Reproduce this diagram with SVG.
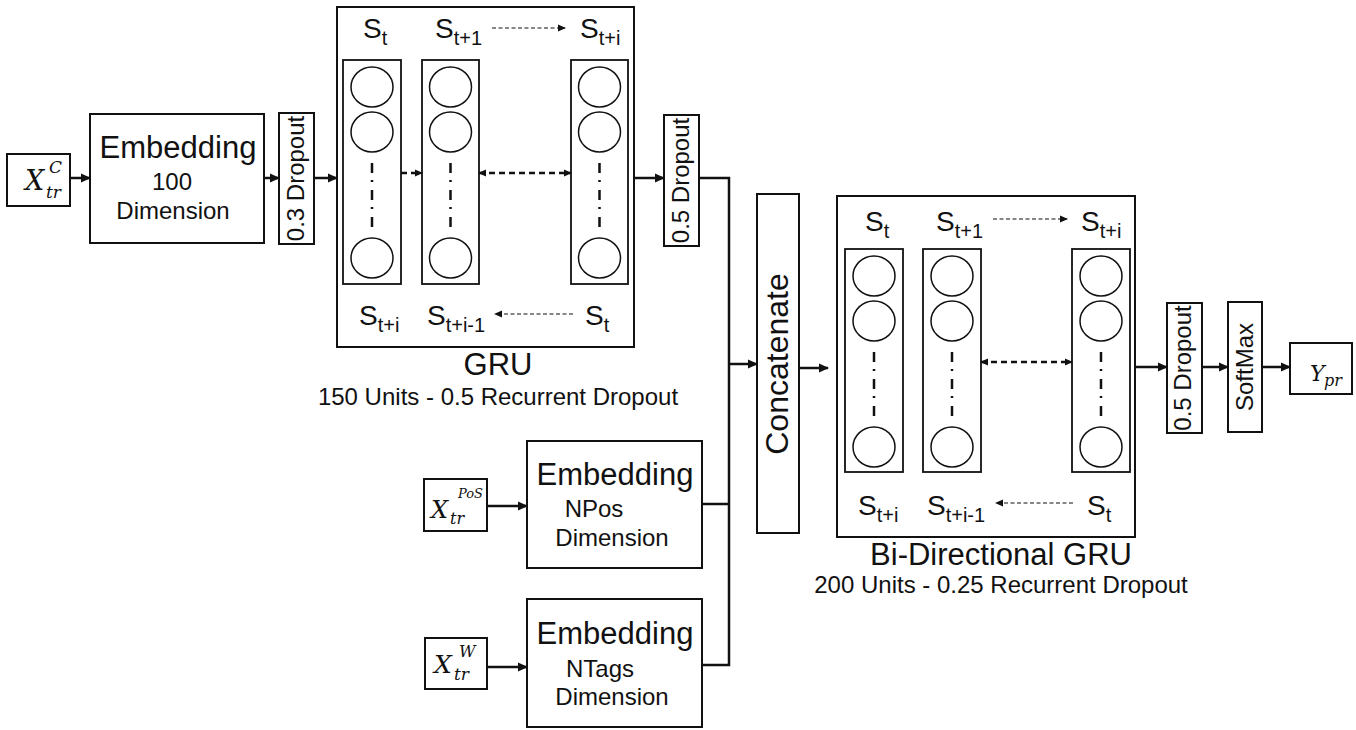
<svg xmlns="http://www.w3.org/2000/svg" width="1356" height="730" viewBox="0 0 1356 730">
<style>
.box{fill:#fff;stroke:#111;stroke-width:2}
.col{fill:none;stroke:#111;stroke-width:1.8}
.cir{fill:none;stroke:#111;stroke-width:1.5}
.dd{stroke:#111;stroke-width:2.5;stroke-dasharray:10,7,2,8;fill:none}
.conn{fill:none;stroke:#111;stroke-width:2.5}
.dash{fill:none;stroke:#111;stroke-width:2.5;stroke-dasharray:6,4}
.thin{fill:none;stroke:#111;stroke-width:1.2;stroke-dasharray:4,2.5}
text{font-family:"Liberation Sans",Arial,sans-serif;fill:#111}
.big{font-size:31px}
.mid{font-size:24px}
.s{font-size:28px}
.sub{font-size:20px}
.m{font-family:"DejaVu Serif","Liberation Serif",serif;font-style:italic}
</style>
<defs>
<marker id="ah" markerUnits="userSpaceOnUse" markerWidth="10" markerHeight="10" refX="9" refY="5" orient="auto-start-reverse"><path d="M0,0.5 L10,5 L0,9.5 z" fill="#111"/></marker>
<marker id="ahs" markerUnits="userSpaceOnUse" markerWidth="8" markerHeight="8" refX="7" refY="4" orient="auto-start-reverse"><path d="M0,0.5 L8,4 L0,7.5 z" fill="#111"/></marker>
</defs>

<g id="xc">
<rect class="box" x="7" y="154" width="63" height="52"/>
<text class="m" x="25" y="190" font-size="27">X</text>
<text class="m" x="49" y="173" font-size="17">C</text>
<text class="m" x="46" y="198" font-size="17">tr</text>
</g>

<g id="emb1">
<rect class="box" x="90" y="114" width="174" height="129"/>
<text class="big" x="178" y="158" text-anchor="middle">Embedding</text>
<text class="mid" x="172" y="190" text-anchor="middle">100</text>
<text class="mid" x="173" y="219" text-anchor="middle">Dimension</text>
</g>

<g id="drop1">
<rect class="box" x="279" y="113" width="35" height="131"/>
<text class="mid" transform="translate(304,178.5) rotate(-90)" text-anchor="middle" font-size="23">0.3 Dropout</text>
</g>

<g id="gru">
<rect class="box" x="337" y="7" width="297" height="340"/>
<rect class="col" x="343" y="60" width="58" height="224"/>
<rect class="col" x="422" y="60" width="57" height="224"/>
<rect class="col" x="571" y="60" width="57" height="224"/>
<ellipse class="cir" cx="372" cy="87" rx="21" ry="20"/>
<ellipse class="cir" cx="372" cy="132" rx="21" ry="20"/>
<ellipse class="cir" cx="372" cy="258" rx="21" ry="20"/>
<ellipse class="cir" cx="450.5" cy="87" rx="21" ry="20"/>
<ellipse class="cir" cx="450.5" cy="132" rx="21" ry="20"/>
<ellipse class="cir" cx="450.5" cy="258" rx="21" ry="20"/>
<ellipse class="cir" cx="599.5" cy="87" rx="21" ry="20"/>
<ellipse class="cir" cx="599.5" cy="132" rx="21" ry="20"/>
<ellipse class="cir" cx="599.5" cy="258" rx="21" ry="20"/>
<line class="dd" x1="372" y1="163" x2="372" y2="229"/>
<line class="dd" x1="450.5" y1="163" x2="450.5" y2="229"/>
<line class="dd" x1="599.5" y1="163" x2="599.5" y2="229"/>
<line class="dash" x1="401" y1="173" x2="422" y2="173" marker-end="url(#ahs)"/>
<line class="dash" x1="479" y1="173" x2="571" y2="173" marker-start="url(#ahs)" marker-end="url(#ahs)"/>
<text class="s" x="363" y="38">S<tspan class="sub" dy="7">t</tspan></text>
<text class="s" x="435" y="38">S<tspan class="sub" dy="7">t+1</tspan></text>
<line class="thin" x1="492" y1="28" x2="565" y2="28" marker-end="url(#ahs)"/>
<text class="s" x="580" y="38">S<tspan class="sub" dy="7">t+i</tspan></text>
<text class="s" x="359" y="325">S<tspan class="sub" dy="7">t+i</tspan></text>
<text class="s" x="427" y="325">S<tspan class="sub" dy="7">t+i-1</tspan></text>
<line class="thin" x1="573" y1="314" x2="495" y2="314" marker-end="url(#ahs)"/>
<text class="s" x="585" y="325">S<tspan class="sub" dy="7">t</tspan></text>
<text class="big" x="498" y="375" text-anchor="middle">GRU</text>
<text class="mid" x="498" y="405" text-anchor="middle">150 Units - 0.5 Recurrent Dropout</text>
</g>

<g id="drop2">
<rect class="box" x="664" y="115" width="35" height="131"/>
<text class="mid" transform="translate(689,180.5) rotate(-90)" text-anchor="middle" font-size="23">0.5 Dropout</text>
</g>

<g id="xpos">
<rect class="box" x="424" y="479" width="63" height="52"/>
<text class="m" x="431" y="518" font-size="24">X</text>
<text class="m" x="458" y="498" font-size="13">PoS</text>
<text class="m" x="450" y="524" font-size="16">tr</text>
</g>

<g id="embpos">
<rect class="box" x="527" y="441" width="175" height="127"/>
<text class="big" x="615" y="485" text-anchor="middle">Embedding</text>
<text class="mid" x="594" y="517" text-anchor="middle">NPos</text>
<text class="mid" x="612" y="546" text-anchor="middle">Dimension</text>
</g>

<g id="xw">
<rect class="box" x="425" y="638" width="62" height="51"/>
<text class="m" x="434" y="673" font-size="25">X</text>
<text class="m" x="459" y="657" font-size="16">W</text>
<text class="m" x="454" y="680" font-size="17">tr</text>
</g>

<g id="embw">
<rect class="box" x="527" y="599" width="175" height="128"/>
<text class="big" x="615" y="644" text-anchor="middle">Embedding</text>
<text class="mid" x="600" y="677" text-anchor="middle">NTags</text>
<text class="mid" x="612" y="705" text-anchor="middle">Dimension</text>
</g>

<g id="concat">
<rect class="box" x="757" y="194" width="42" height="339"/>
<text transform="translate(788,364) rotate(-90)" text-anchor="middle" font-size="32">Concatenate</text>
</g>

<g id="bigru">
<rect class="box" x="837" y="196" width="298" height="341"/>
<rect class="col" x="845" y="249" width="58" height="223"/>
<rect class="col" x="923" y="249" width="58" height="223"/>
<rect class="col" x="1072" y="249" width="58" height="223"/>
<ellipse class="cir" cx="874" cy="276" rx="21" ry="20"/>
<ellipse class="cir" cx="874" cy="321" rx="21" ry="20"/>
<ellipse class="cir" cx="874" cy="447" rx="21" ry="20"/>
<ellipse class="cir" cx="952" cy="276" rx="21" ry="20"/>
<ellipse class="cir" cx="952" cy="321" rx="21" ry="20"/>
<ellipse class="cir" cx="952" cy="447" rx="21" ry="20"/>
<ellipse class="cir" cx="1101" cy="276" rx="21" ry="20"/>
<ellipse class="cir" cx="1101" cy="321" rx="21" ry="20"/>
<ellipse class="cir" cx="1101" cy="447" rx="21" ry="20"/>
<line class="dd" x1="874" y1="352" x2="874" y2="418"/>
<line class="dd" x1="952" y1="352" x2="952" y2="418"/>
<line class="dd" x1="1101" y1="352" x2="1101" y2="418"/>
<line class="dash" x1="981" y1="362" x2="1072" y2="362" marker-start="url(#ahs)" marker-end="url(#ahs)"/>
<text class="s" x="865" y="231">S<tspan class="sub" dy="7">t</tspan></text>
<text class="s" x="936" y="231">S<tspan class="sub" dy="7">t+1</tspan></text>
<line class="thin" x1="993" y1="219" x2="1067" y2="219" marker-end="url(#ahs)"/>
<text class="s" x="1081" y="231">S<tspan class="sub" dy="7">t+i</tspan></text>
<text class="s" x="858" y="515">S<tspan class="sub" dy="7">t+i</tspan></text>
<text class="s" x="927" y="515">S<tspan class="sub" dy="7">t+i-1</tspan></text>
<line class="thin" x1="1073" y1="503" x2="996" y2="503" marker-end="url(#ahs)"/>
<text class="s" x="1087" y="515">S<tspan class="sub" dy="7">t</tspan></text>
<text class="big" x="1001" y="565" text-anchor="middle">Bi-Directional GRU</text>
<text class="mid" x="1001" y="593" text-anchor="middle">200 Units - 0.25 Recurrent Dropout</text>
</g>

<g id="drop3">
<rect class="box" x="1167" y="303" width="35" height="130"/>
<text class="mid" transform="translate(1191,368) rotate(-90)" text-anchor="middle" font-size="23">0.5 Dropout</text>
</g>

<g id="softmax">
<rect class="box" x="1228" y="302" width="34" height="130"/>
<text class="mid" transform="translate(1253,367) rotate(-90)" text-anchor="middle" font-size="23.5">SoftMax</text>
</g>

<g id="ypr">
<rect class="box" x="1290" y="343" width="62" height="51"/>
<text class="m" x="1310" y="381" font-size="22">Y</text>
<text class="m" x="1324" y="386" font-size="16">pr</text>
</g>

<g id="connectors">
<line class="conn" x1="70" y1="178" x2="90" y2="178" marker-end="url(#ah)"/>
<line class="conn" x1="264" y1="178" x2="279" y2="178" marker-end="url(#ah)"/>
<line class="conn" x1="314" y1="178" x2="337" y2="178" marker-end="url(#ah)"/>
<line class="conn" x1="634" y1="178" x2="664" y2="178" marker-end="url(#ah)"/>
<polyline class="conn" points="699,178 729,178 729,665 702,665"/>
<line class="conn" x1="702" y1="504" x2="729" y2="504"/>
<line class="conn" x1="729" y1="364" x2="757" y2="364" marker-end="url(#ah)"/>
<line class="conn" x1="487" y1="506" x2="527" y2="506" marker-end="url(#ah)"/>
<line class="conn" x1="487" y1="667" x2="527" y2="667" marker-end="url(#ah)"/>
<line class="conn" x1="799" y1="368" x2="828" y2="368" marker-end="url(#ah)"/>
<line class="conn" x1="1135" y1="367" x2="1167" y2="367" marker-end="url(#ah)"/>
<line class="conn" x1="1202" y1="367" x2="1228" y2="367" marker-end="url(#ah)"/>
<line class="conn" x1="1262" y1="367" x2="1290" y2="367" marker-end="url(#ah)"/>
</g>
</svg>
